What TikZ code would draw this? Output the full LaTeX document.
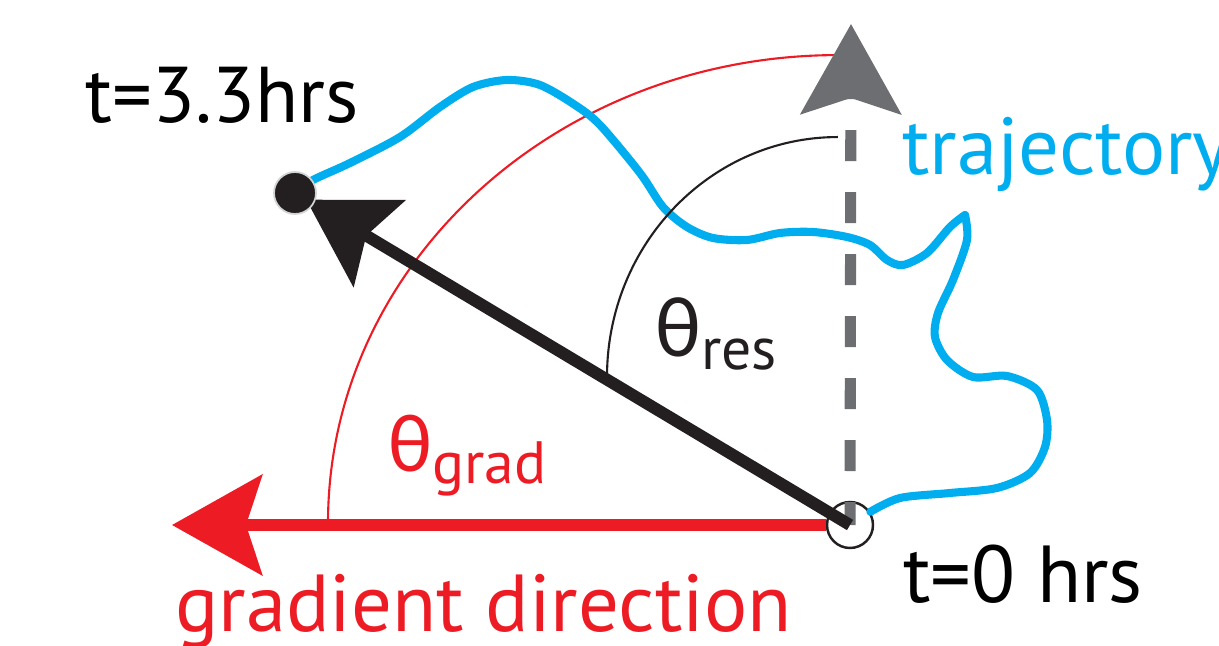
\documentclass[tikz,border=0pt]{standalone}
\usepackage{fontspec}
\setmainfont{PT Sans}
\newfontfamily\grk{Carlito}
\usepackage{xcolor}
\usetikzlibrary{arrows.meta}
\definecolor{gradred}{RGB}{237,28,36}
\definecolor{trajblue}{RGB}{0,174,239}
\definecolor{resgray}{RGB}{109,110,113}
\definecolor{inkblack}{RGB}{35,31,32}
\definecolor{halo}{RGB}{209,211,212}

\begin{document}
\begin{tikzpicture}[x=0.02cm, y=0.02cm,
    bigtip/.style={-{Stealth[length=1.8cm, width=2cm, inset=0.32cm]}},
    txt/.style={inner sep=0pt, anchor=base west},
    anglearc/.style={line width=1.2pt},
    trajline/.style={trajblue, line width=4.6pt, line join=round, line cap=round}]
  \useasboundingbox (0,0) rectangle (1219,645);

  \coordinate (gradtip) at (172,120);
  \coordinate (restip) at (851,621);
  \coordinate (endpt) at (295,452);
  \node[circle, draw=inkblack, fill=white, line width=1.4pt, minimum size=0.92cm, inner sep=0pt] (origin) at (850,120) {};

  \draw[anglearc, gradred] (328,122) arc[start angle=180, end angle=90, x radius=10.2cm, y radius=9.36cm];

  \draw[trajline] plot[smooth] coordinates {(endpt) (313,465) (350,482) (400,508) (440,538) (473,558) (507,565) (540,560) (575,540) (600,520) (640,472) (663,438) (687,418) (713,407) (747,405) (780,412) (813,413) (847,408) (870,400) (887,385) (903,380) (927,392) (950,418) (965,430)};
  \draw[trajline] plot[smooth] coordinates {(965,430) (967,405) (953,365) (938,332) (935,308) (947,285) (973,268) (1007,269) (1037,255) (1047,225) (1045,198) (1030,172) (997,157) (950,152) (900,147) (origin.33)};

  \draw[anglearc, inkblack] (607,268) arc[start angle=180, end angle=90, x radius=4.62cm, y radius=4.8cm];

  \draw[bigtip, gradred, line width=6.3pt] (origin) -- (gradtip);
  \draw[bigtip, resgray, line width=6.3pt, dash pattern=on 0.62cm off 0.62cm, dash phase=0.16cm] (origin.center) -- (restip);
  \draw[-{Stealth[length=1.7cm, width=2cm, inset=0.3cm]}, inkblack, line width=6.8pt, shorten >=0.26cm] (origin.center) -- (endpt);

  \node[circle, fill=inkblack, draw=halo, line width=1pt, minimum size=0.84cm, inner sep=0pt] (enddot) at (endpt) {};

  \node[txt, font=\fontsize{45}{45}\selectfont] (tend) at (85,522) {t=3.3hrs};
  \node[txt, font=\fontsize{46}{46}\selectfont] (tstart) at (903,42) {t=0 hrs};
  \node[txt, trajblue, font=\fontsize{46}{46}\selectfont] (trajlabel) at (902,470) {trajectory};
  \node[txt, gradred, font=\fontsize{46}{46}\selectfont] (gradlabel) at (175,13) {gradient direction};
  \node[txt, inkblack] (thetares) at (655,288) {{\grk\fontsize{49}{49}\selectfont θ}\raisebox{-7.4pt}{\fontsize{34}{34}\selectfont res}};
  \node[txt, gradred] (thetagrad) at (388,173) {{\grk\fontsize{47}{47}\selectfont θ}\raisebox{-6.3pt}{\fontsize{34}{34}\selectfont grad}};
\end{tikzpicture}
\end{document}
